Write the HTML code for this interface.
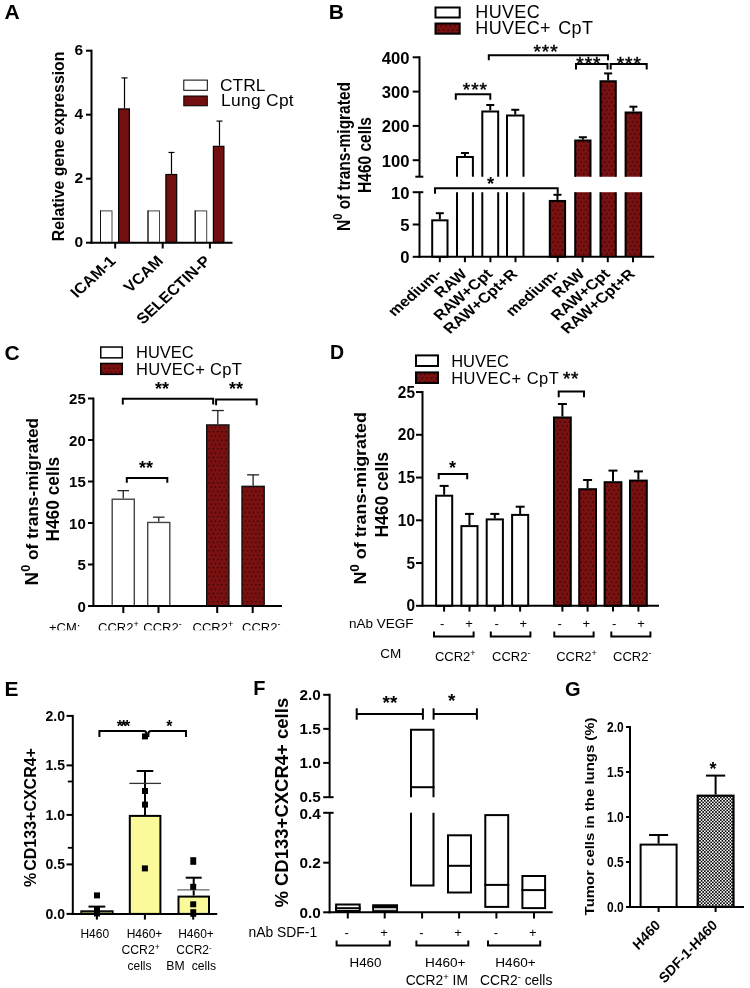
<!DOCTYPE html>
<html><head><meta charset="utf-8"><style>
html,body{margin:0;padding:0;background:#fff;}
svg{display:block;will-change:transform;}
text{font-family:"Liberation Sans", sans-serif;fill:#000;}
</style></head><body>
<svg width="750" height="988" viewBox="0 0 750 988">
<defs>
<pattern id="rd" patternUnits="userSpaceOnUse" width="4.67" height="8">
<rect width="4.67" height="8" fill="#7a1111"/>
<rect x="1.6" y="1.5" width="1.2" height="1.1" fill="#000"/>
<rect x="3.9" y="5.5" width="1.2" height="1.1" fill="#000"/>
<rect x="-0.77" y="5.5" width="1.2" height="1.1" fill="#000"/>
</pattern>
<pattern id="rd2" patternUnits="userSpaceOnUse" width="4.25" height="8.5" x="1" y="0.5">
<rect width="4.25" height="8.5" fill="#7a1111"/>
<rect x="1.5" y="1.5" width="1.1" height="1.1" fill="#000"/>
<rect x="3.6" y="5.75" width="1.1" height="1.1" fill="#000"/>
<rect x="-0.65" y="5.75" width="1.1" height="1.1" fill="#000"/>
</pattern>
<pattern id="ck" patternUnits="userSpaceOnUse" width="3.2" height="3.2">
<rect width="3.2" height="3.2" fill="#fff"/>
<rect width="1.6" height="1.6" fill="#000"/>
<rect x="1.6" y="1.6" width="1.6" height="1.6" fill="#000"/>
</pattern>
<clipPath id="clipC"><rect x="0" y="0" width="330" height="630.3"/></clipPath>
</defs>
<rect width="750" height="988" fill="#fff"/>
<text x="0" y="0" font-size="21" font-weight="bold" text-anchor="start" transform="translate(4.40 18.90)" >A</text>
<rect x="100.50" y="210.90" width="11.50" height="31.80" fill="#fff" stroke="#444" stroke-width="1"/>
<line x1="100.50" y1="210.40" x2="100.50" y2="242.70" stroke="#111" stroke-width="1"/>
<line x1="124.50" y1="108.30" x2="124.50" y2="77.90" stroke="#000" stroke-width="1.2"/>
<line x1="121.50" y1="77.90" x2="127.50" y2="77.90" stroke="#000" stroke-width="1.2"/>
<rect x="118.60" y="108.90" width="10.80" height="133.70" fill="#720f10" stroke="#000" stroke-width="1.2"/>
<rect x="148.00" y="210.90" width="11.50" height="31.80" fill="#fff" stroke="#444" stroke-width="1"/>
<line x1="148.00" y1="210.40" x2="148.00" y2="242.70" stroke="#111" stroke-width="1"/>
<line x1="171.50" y1="173.90" x2="171.50" y2="152.46" stroke="#000" stroke-width="1.2"/>
<line x1="168.50" y1="152.46" x2="174.50" y2="152.46" stroke="#000" stroke-width="1.2"/>
<rect x="165.90" y="174.50" width="10.80" height="68.10" fill="#720f10" stroke="#000" stroke-width="1.2"/>
<rect x="195.20" y="210.90" width="11.50" height="31.80" fill="#fff" stroke="#444" stroke-width="1"/>
<line x1="195.20" y1="210.40" x2="195.20" y2="242.70" stroke="#111" stroke-width="1"/>
<line x1="219.50" y1="145.74" x2="219.50" y2="121.10" stroke="#000" stroke-width="1.2"/>
<line x1="216.50" y1="121.10" x2="222.50" y2="121.10" stroke="#000" stroke-width="1.2"/>
<rect x="213.40" y="146.34" width="10.50" height="96.26" fill="#720f10" stroke="#000" stroke-width="1.2"/>
<line x1="91.50" y1="49.70" x2="91.50" y2="243.70" stroke="#000" stroke-width="2"/>
<line x1="90.50" y1="242.70" x2="232.50" y2="242.70" stroke="#000" stroke-width="2"/>
<line x1="86.00" y1="50.70" x2="91.50" y2="50.70" stroke="#000" stroke-width="2"/>
<text x="0" y="0" font-size="15.5" font-weight="bold" text-anchor="end" transform="translate(83.00 55.20)" >6</text>
<line x1="86.00" y1="114.70" x2="91.50" y2="114.70" stroke="#000" stroke-width="2"/>
<text x="0" y="0" font-size="15.5" font-weight="bold" text-anchor="end" transform="translate(83.00 119.20)" >4</text>
<line x1="86.00" y1="178.70" x2="91.50" y2="178.70" stroke="#000" stroke-width="2"/>
<text x="0" y="0" font-size="15.5" font-weight="bold" text-anchor="end" transform="translate(83.00 183.20)" >2</text>
<line x1="86.00" y1="242.70" x2="91.50" y2="242.70" stroke="#000" stroke-width="2"/>
<text x="0" y="0" font-size="15.5" font-weight="bold" text-anchor="end" transform="translate(83.00 247.20)" >0</text>
<line x1="115.20" y1="242.70" x2="115.20" y2="248.50" stroke="#000" stroke-width="2"/>
<line x1="162.70" y1="242.70" x2="162.70" y2="248.50" stroke="#000" stroke-width="2"/>
<line x1="209.90" y1="242.70" x2="209.90" y2="248.50" stroke="#000" stroke-width="2"/>
<text x="0" y="0" font-size="15.8" font-weight="bold" text-anchor="middle" transform="translate(64.00 146.40) rotate(-90) scale(1.0 1.1)" >Relative gene expression</text>
<text x="0" y="0" font-size="15" font-weight="bold" text-anchor="end" transform="translate(116.70 262.00) scale(1.085 1) rotate(-45)" >ICAM-1</text>
<text x="0" y="0" font-size="15" font-weight="bold" text-anchor="end" transform="translate(164.20 262.00) scale(1.085 1) rotate(-45)" >VCAM</text>
<text x="0" y="0" font-size="15" font-weight="bold" text-anchor="end" transform="translate(211.40 262.00) scale(1.085 1) rotate(-45)" >SELECTIN-P</text>
<rect x="183.80" y="80.10" width="23.50" height="10.20" fill="#fff" stroke="#000" stroke-width="1"/>
<rect x="183.80" y="96.00" width="23.50" height="9.80" fill="#720f10" stroke="#000" stroke-width="1"/>
<text x="0" y="0" font-size="17.4" font-weight="normal" text-anchor="start" transform="translate(220.00 90.60)" >CTRL</text>
<text x="0" y="0" font-size="17.4" font-weight="normal" text-anchor="start" transform="translate(221.00 106.20)" letter-spacing="0.3">Lung Cpt</text>
<text x="0" y="0" font-size="21" font-weight="bold" text-anchor="start" transform="translate(328.80 19.20)" >B</text>
<rect x="435.50" y="7.50" width="24.20" height="10.00" fill="#fff" stroke="#000" stroke-width="2"/>
<rect x="435.50" y="23.50" width="24.20" height="10.20" fill="url(#rd)" stroke="#000" stroke-width="2"/>
<text x="0" y="0" font-size="18" font-weight="normal" text-anchor="start" transform="translate(475.30 17.80)" letter-spacing="0.35">HUVEC</text>
<text x="0" y="0" font-size="18" font-weight="normal" text-anchor="start" transform="translate(475.30 33.60)" letter-spacing="0.35">HUVEC+<tspan dx="2"> CpT</tspan></text>
<line x1="439.85" y1="219.33" x2="439.85" y2="213.20" stroke="#000" stroke-width="2"/>
<line x1="435.85" y1="213.20" x2="443.85" y2="213.20" stroke="#000" stroke-width="2"/>
<rect x="432.20" y="220.33" width="15.30" height="36.47" fill="#fff" stroke="#000" stroke-width="2"/>
<line x1="464.95" y1="156.08" x2="464.95" y2="153.00" stroke="#000" stroke-width="2"/>
<line x1="460.95" y1="153.00" x2="468.95" y2="153.00" stroke="#000" stroke-width="2"/>
<path d="M457.00,176.70 L457.00,157.08 L472.90,157.08 L472.90,176.70" fill="#fff" stroke="#000" stroke-width="2"/>
<rect x="457.00" y="192.20" width="15.90" height="64.60" fill="#fff"/>
<path d="M457.00,192.20 L457.00,256.80 M472.90,256.80 L472.90,192.20" fill="none" stroke="#000" stroke-width="2"/>
<line x1="490.25" y1="110.46" x2="490.25" y2="104.98" stroke="#000" stroke-width="2"/>
<line x1="486.25" y1="104.98" x2="494.25" y2="104.98" stroke="#000" stroke-width="2"/>
<path d="M482.30,176.70 L482.30,111.46 L498.20,111.46 L498.20,176.70" fill="#fff" stroke="#000" stroke-width="2"/>
<rect x="482.30" y="192.20" width="15.90" height="64.60" fill="#fff"/>
<path d="M482.30,192.20 L482.30,256.80 M498.20,256.80 L498.20,192.20" fill="none" stroke="#000" stroke-width="2"/>
<line x1="515.25" y1="114.58" x2="515.25" y2="109.78" stroke="#000" stroke-width="2"/>
<line x1="511.25" y1="109.78" x2="519.25" y2="109.78" stroke="#000" stroke-width="2"/>
<path d="M507.00,176.70 L507.00,115.58 L523.50,115.58 L523.50,176.70" fill="#fff" stroke="#000" stroke-width="2"/>
<rect x="507.00" y="192.20" width="16.50" height="64.60" fill="#fff"/>
<path d="M507.00,192.20 L507.00,256.80 M523.50,256.80 L523.50,192.20" fill="none" stroke="#000" stroke-width="2"/>
<line x1="557.45" y1="199.95" x2="557.45" y2="194.78" stroke="#000" stroke-width="2"/>
<line x1="553.45" y1="194.78" x2="561.45" y2="194.78" stroke="#000" stroke-width="2"/>
<rect x="549.80" y="200.95" width="15.30" height="55.85" fill="url(#rd)" stroke="#000" stroke-width="2"/>
<line x1="582.85" y1="139.62" x2="582.85" y2="137.22" stroke="#000" stroke-width="2"/>
<line x1="578.85" y1="137.22" x2="586.85" y2="137.22" stroke="#000" stroke-width="2"/>
<path d="M575.20,176.70 L575.20,140.62 L590.50,140.62 L590.50,176.70" fill="url(#rd)" stroke="#000" stroke-width="2"/>
<rect x="575.20" y="192.20" width="15.30" height="64.60" fill="url(#rd)"/>
<path d="M575.20,192.20 L575.20,256.80 M590.50,256.80 L590.50,192.20" fill="none" stroke="#000" stroke-width="2"/>
<line x1="608.15" y1="80.28" x2="608.15" y2="73.42" stroke="#000" stroke-width="2"/>
<line x1="604.15" y1="73.42" x2="612.15" y2="73.42" stroke="#000" stroke-width="2"/>
<path d="M600.50,176.70 L600.50,81.28 L615.80,81.28 L615.80,176.70" fill="url(#rd)" stroke="#000" stroke-width="2"/>
<rect x="600.50" y="192.20" width="15.30" height="64.60" fill="url(#rd)"/>
<path d="M600.50,192.20 L600.50,256.80 M615.80,256.80 L615.80,192.20" fill="none" stroke="#000" stroke-width="2"/>
<line x1="633.40" y1="111.49" x2="633.40" y2="106.69" stroke="#000" stroke-width="2"/>
<line x1="629.40" y1="106.69" x2="637.40" y2="106.69" stroke="#000" stroke-width="2"/>
<path d="M625.60,176.70 L625.60,112.49 L641.20,112.49 L641.20,176.70" fill="url(#rd)" stroke="#000" stroke-width="2"/>
<rect x="625.60" y="192.20" width="15.60" height="64.60" fill="url(#rd)"/>
<path d="M625.60,192.20 L625.60,256.80 M641.20,256.80 L641.20,192.20" fill="none" stroke="#000" stroke-width="2"/>
<line x1="419.50" y1="56.30" x2="419.50" y2="176.70" stroke="#000" stroke-width="2"/>
<line x1="415.30" y1="176.70" x2="423.30" y2="176.70" stroke="#000" stroke-width="2"/>
<line x1="419.50" y1="192.20" x2="419.50" y2="257.80" stroke="#000" stroke-width="2"/>
<line x1="412.70" y1="192.20" x2="423.30" y2="192.20" stroke="#000" stroke-width="2"/>
<line x1="418.50" y1="256.80" x2="654.20" y2="256.80" stroke="#000" stroke-width="2"/>
<line x1="412.70" y1="57.30" x2="419.50" y2="57.30" stroke="#000" stroke-width="2"/>
<text x="0" y="0" font-size="16" font-weight="bold" text-anchor="end" transform="translate(409.40 63.60) scale(1.04 1.0)" >400</text>
<line x1="412.70" y1="91.60" x2="419.50" y2="91.60" stroke="#000" stroke-width="2"/>
<text x="0" y="0" font-size="16" font-weight="bold" text-anchor="end" transform="translate(409.40 97.90) scale(1.04 1.0)" >300</text>
<line x1="412.70" y1="125.90" x2="419.50" y2="125.90" stroke="#000" stroke-width="2"/>
<text x="0" y="0" font-size="16" font-weight="bold" text-anchor="end" transform="translate(409.40 132.20) scale(1.04 1.0)" >200</text>
<line x1="412.70" y1="160.20" x2="419.50" y2="160.20" stroke="#000" stroke-width="2"/>
<text x="0" y="0" font-size="16" font-weight="bold" text-anchor="end" transform="translate(409.40 166.50) scale(1.04 1.0)" >100</text>
<text x="0" y="0" font-size="16" font-weight="bold" text-anchor="end" transform="translate(409.40 198.50) scale(1.04 1.0)" >10</text>
<line x1="412.70" y1="224.50" x2="419.50" y2="224.50" stroke="#000" stroke-width="2"/>
<text x="0" y="0" font-size="16" font-weight="bold" text-anchor="end" transform="translate(409.40 230.80) scale(1.04 1.0)" >5</text>
<line x1="412.70" y1="256.80" x2="419.50" y2="256.80" stroke="#000" stroke-width="2"/>
<text x="0" y="0" font-size="16" font-weight="bold" text-anchor="end" transform="translate(409.40 263.10) scale(1.04 1.0)" >0</text>
<line x1="439.80" y1="256.80" x2="439.80" y2="262.20" stroke="#000" stroke-width="2"/>
<line x1="464.90" y1="256.80" x2="464.90" y2="262.20" stroke="#000" stroke-width="2"/>
<line x1="490.40" y1="256.80" x2="490.40" y2="262.20" stroke="#000" stroke-width="2"/>
<line x1="515.50" y1="256.80" x2="515.50" y2="262.20" stroke="#000" stroke-width="2"/>
<line x1="557.70" y1="256.80" x2="557.70" y2="262.20" stroke="#000" stroke-width="2"/>
<line x1="582.60" y1="256.80" x2="582.60" y2="262.20" stroke="#000" stroke-width="2"/>
<line x1="607.80" y1="256.80" x2="607.80" y2="262.20" stroke="#000" stroke-width="2"/>
<line x1="633.00" y1="256.80" x2="633.00" y2="262.20" stroke="#000" stroke-width="2"/>
<text x="0" y="0" font-size="14.3" font-weight="bold" text-anchor="end" transform="translate(442.80 275.00) scale(1.15 1) rotate(-45)" >medium-</text>
<text x="0" y="0" font-size="14.3" font-weight="bold" text-anchor="end" transform="translate(467.90 275.00) scale(1.15 1) rotate(-45)" >RAW</text>
<text x="0" y="0" font-size="14.3" font-weight="bold" text-anchor="end" transform="translate(493.40 275.00) scale(1.15 1) rotate(-45)" >RAW+Cpt</text>
<text x="0" y="0" font-size="14.3" font-weight="bold" text-anchor="end" transform="translate(518.50 275.00) scale(1.15 1) rotate(-45)" >RAW+Cpt+R</text>
<text x="0" y="0" font-size="14.3" font-weight="bold" text-anchor="end" transform="translate(560.70 275.00) scale(1.15 1) rotate(-45)" >medium-</text>
<text x="0" y="0" font-size="14.3" font-weight="bold" text-anchor="end" transform="translate(585.60 275.00) scale(1.15 1) rotate(-45)" >RAW</text>
<text x="0" y="0" font-size="14.3" font-weight="bold" text-anchor="end" transform="translate(610.80 275.00) scale(1.15 1) rotate(-45)" >RAW+Cpt</text>
<text x="0" y="0" font-size="14.3" font-weight="bold" text-anchor="end" transform="translate(636.00 275.00) scale(1.15 1) rotate(-45)" >RAW+Cpt+R</text>
<path d="M455.80,99.80 L455.80,94.30 L490.30,94.30 L490.30,99.80" stroke="#000" stroke-width="2" fill="none" />
<text x="0" y="0" font-size="19" font-weight="normal" text-anchor="middle" transform="translate(475.40 95.80)" letter-spacing="1.0" stroke="#000" stroke-width="0.5">***</text>
<text x="0" y="0" font-size="19" font-weight="normal" text-anchor="middle" transform="translate(546.00 57.70)" letter-spacing="1.0" stroke="#000" stroke-width="0.5">***</text>
<text x="0" y="0" font-size="19" font-weight="normal" text-anchor="middle" transform="translate(588.90 70.30)" letter-spacing="1.0" stroke="#000" stroke-width="0.5">***</text>
<text x="0" y="0" font-size="19" font-weight="normal" text-anchor="middle" transform="translate(629.30 70.30)" letter-spacing="1.0" stroke="#000" stroke-width="0.5">***</text>
<text x="0" y="0" font-size="18.5" font-weight="bold" text-anchor="middle" transform="translate(490.70 189.50)" >*</text>
<path d="M488.80,60.20 L488.80,55.20 L608.00,55.20 L608.00,60.20" stroke="#000" stroke-width="2" fill="none" />
<path d="M576.00,69.50 L576.00,64.00 L607.50,64.00 L607.50,69.50" stroke="#000" stroke-width="2" fill="none" />
<path d="M610.70,69.50 L610.70,64.00 L646.70,64.00 L646.70,69.50" stroke="#000" stroke-width="2" fill="none" />
<path d="M435.00,193.80 L435.00,188.30 L557.70,188.30 L557.70,193.80" stroke="#000" stroke-width="2" fill="none" />
<text x="0" y="0" font-size="15.5" font-weight="bold" text-anchor="middle" transform="translate(350.00 156.50) rotate(-90) scale(1.0 1.22)" >N<tspan font-size="11" dy="-6.6">0</tspan><tspan dy="6.6"> of trans-migrated</tspan></text>
<text x="0" y="0" font-size="15.5" font-weight="bold" text-anchor="middle" transform="translate(370.80 155.00) rotate(-90) scale(1.0 1.18)" >H460 cells</text>
<text x="0" y="0" font-size="21" font-weight="bold" text-anchor="start" transform="translate(4.40 359.60)" >C</text>
<rect x="100.75" y="347.05" width="21.50" height="10.80" fill="#fff" stroke="#000" stroke-width="1.5"/>
<rect x="100.75" y="363.45" width="21.50" height="10.90" fill="url(#rd2)" stroke="#000" stroke-width="1.5"/>
<text x="0" y="0" font-size="16.5" font-weight="normal" text-anchor="start" transform="translate(136.00 358.20)" >HUVEC</text>
<text x="0" y="0" font-size="16.5" font-weight="normal" text-anchor="start" transform="translate(136.00 375.00)" letter-spacing="0.3">HUVEC+ CpT</text>
<line x1="123.25" y1="498.51" x2="123.25" y2="490.63" stroke="#222" stroke-width="1.3"/>
<line x1="117.50" y1="490.63" x2="129.00" y2="490.63" stroke="#222" stroke-width="1.3"/>
<rect x="112.20" y="499.21" width="22.10" height="107.09" fill="#fff" stroke="#444" stroke-width="1.4"/>
<line x1="158.75" y1="521.75" x2="158.75" y2="517.19" stroke="#222" stroke-width="1.3"/>
<line x1="153.00" y1="517.19" x2="164.50" y2="517.19" stroke="#222" stroke-width="1.3"/>
<rect x="147.70" y="522.46" width="22.10" height="83.84" fill="#fff" stroke="#444" stroke-width="1.4"/>
<line x1="217.80" y1="424.23" x2="217.80" y2="410.53" stroke="#222" stroke-width="1.3"/>
<line x1="211.80" y1="410.53" x2="223.80" y2="410.53" stroke="#222" stroke-width="1.3"/>
<rect x="206.70" y="424.93" width="22.20" height="181.37" fill="url(#rd2)" stroke="#111" stroke-width="1.4"/>
<line x1="253.10" y1="485.65" x2="253.10" y2="474.86" stroke="#222" stroke-width="1.3"/>
<line x1="247.10" y1="474.86" x2="259.10" y2="474.86" stroke="#222" stroke-width="1.3"/>
<rect x="242.00" y="486.35" width="22.20" height="119.95" fill="url(#rd2)" stroke="#111" stroke-width="1.4"/>
<line x1="93.40" y1="397.60" x2="93.40" y2="607.00" stroke="#000" stroke-width="2"/>
<line x1="92.40" y1="606.00" x2="282.00" y2="606.00" stroke="#000" stroke-width="2"/>
<line x1="88.00" y1="398.50" x2="93.40" y2="398.50" stroke="#000" stroke-width="2"/>
<text x="0" y="0" font-size="15.5" font-weight="bold" text-anchor="end" transform="translate(85.80 404.00) scale(0.97 1.0)" >25</text>
<line x1="88.00" y1="440.00" x2="93.40" y2="440.00" stroke="#000" stroke-width="2"/>
<text x="0" y="0" font-size="15.5" font-weight="bold" text-anchor="end" transform="translate(85.80 445.50) scale(0.97 1.0)" >20</text>
<line x1="88.00" y1="481.50" x2="93.40" y2="481.50" stroke="#000" stroke-width="2"/>
<text x="0" y="0" font-size="15.5" font-weight="bold" text-anchor="end" transform="translate(85.80 487.00) scale(0.97 1.0)" >15</text>
<line x1="88.00" y1="523.00" x2="93.40" y2="523.00" stroke="#000" stroke-width="2"/>
<text x="0" y="0" font-size="15.5" font-weight="bold" text-anchor="end" transform="translate(85.80 528.50) scale(0.97 1.0)" >10</text>
<line x1="88.00" y1="564.50" x2="93.40" y2="564.50" stroke="#000" stroke-width="2"/>
<text x="0" y="0" font-size="15.5" font-weight="bold" text-anchor="end" transform="translate(85.80 570.00) scale(0.97 1.0)" >5</text>
<line x1="88.00" y1="606.00" x2="93.40" y2="606.00" stroke="#000" stroke-width="2"/>
<text x="0" y="0" font-size="15.5" font-weight="bold" text-anchor="end" transform="translate(85.80 611.50) scale(0.97 1.0)" >0</text>
<line x1="123.30" y1="606.00" x2="123.30" y2="613.00" stroke="#000" stroke-width="2"/>
<line x1="158.50" y1="606.00" x2="158.50" y2="613.00" stroke="#000" stroke-width="2"/>
<line x1="217.20" y1="606.00" x2="217.20" y2="613.00" stroke="#000" stroke-width="2"/>
<line x1="252.70" y1="606.00" x2="252.70" y2="613.00" stroke="#000" stroke-width="2"/>
<path d="M122.80,404.50 L122.80,398.70 L213.20,398.70 L213.20,404.50" stroke="#000" stroke-width="2" fill="none" />
<path d="M216.10,405.30 L216.10,399.50 L256.70,399.50 L256.70,405.30" stroke="#000" stroke-width="2" fill="none" />
<path d="M126.80,482.80 L126.80,478.00 L167.30,478.00 L167.30,482.80" stroke="#000" stroke-width="2" fill="none" />
<text x="0" y="0" font-size="18" font-weight="bold" text-anchor="middle" transform="translate(162.00 394.60)" >**</text>
<text x="0" y="0" font-size="18" font-weight="bold" text-anchor="middle" transform="translate(235.90 394.60)" >**</text>
<text x="0" y="0" font-size="18" font-weight="bold" text-anchor="middle" transform="translate(146.00 474.00)" >**</text>
<text x="0" y="0" font-size="17.3" font-weight="bold" text-anchor="middle" transform="translate(37.90 501.60) rotate(-90)" ><tspan font-size="18.8">N</tspan><tspan font-size="12.7" dy="-7.6">0</tspan><tspan dy="7.6"> of trans-migrated</tspan></text>
<text x="0" y="0" font-size="17.3" font-weight="bold" text-anchor="middle" transform="translate(58.50 499.20) rotate(-90) scale(1.0 1.08)" >H460 cells</text>
<g clip-path="url(#clipC)">
<text x="0" y="0" font-size="13" font-weight="normal" text-anchor="start" transform="translate(49.00 631.80)" >+CM:</text>
<text x="0" y="0" font-size="13" font-weight="normal" text-anchor="start" transform="translate(98.00 631.80)" >CCR2<tspan font-size="9" dy="-5">+</tspan></text>
<text x="0" y="0" font-size="13" font-weight="normal" text-anchor="start" transform="translate(143.30 631.80)" >CCR2<tspan font-size="9" dy="-5">-</tspan></text>
<text x="0" y="0" font-size="13" font-weight="normal" text-anchor="start" transform="translate(192.50 631.80)" >CCR2<tspan font-size="9" dy="-5">+</tspan></text>
<text x="0" y="0" font-size="13" font-weight="normal" text-anchor="start" transform="translate(242.00 631.80)" >CCR2<tspan font-size="9" dy="-5">-</tspan></text>
</g>
<text x="0" y="0" font-size="19.5" font-weight="bold" text-anchor="start" transform="translate(330.00 359.40)" >D</text>
<rect x="416.00" y="355.40" width="22.00" height="10.60" fill="#fff" stroke="#000" stroke-width="2"/>
<rect x="416.00" y="372.40" width="22.00" height="10.60" fill="url(#rd)" stroke="#000" stroke-width="2"/>
<text x="0" y="0" font-size="16.5" font-weight="normal" text-anchor="start" transform="translate(451.20 366.70)" >HUVEC</text>
<text x="0" y="0" font-size="16.5" font-weight="normal" text-anchor="start" transform="translate(451.20 383.50)" letter-spacing="0.5">HUVEC+ CpT</text>
<text x="0" y="0" font-size="19" font-weight="normal" text-anchor="middle" transform="translate(571.00 385.00)" stroke="#000" stroke-width="0.5" letter-spacing="0.5">**</text>
<line x1="444.15" y1="494.70" x2="444.15" y2="485.90" stroke="#000" stroke-width="2"/>
<line x1="439.65" y1="485.90" x2="448.65" y2="485.90" stroke="#000" stroke-width="2"/>
<rect x="436.10" y="495.70" width="16.10" height="110.10" fill="#fff" stroke="#000" stroke-width="2"/>
<line x1="469.45" y1="525.10" x2="469.45" y2="513.90" stroke="#000" stroke-width="2"/>
<line x1="464.95" y1="513.90" x2="473.95" y2="513.90" stroke="#000" stroke-width="2"/>
<rect x="461.40" y="526.10" width="16.10" height="79.70" fill="#fff" stroke="#000" stroke-width="2"/>
<line x1="494.80" y1="518.40" x2="494.80" y2="513.90" stroke="#000" stroke-width="2"/>
<line x1="490.30" y1="513.90" x2="499.30" y2="513.90" stroke="#000" stroke-width="2"/>
<rect x="486.70" y="519.40" width="16.20" height="86.40" fill="#fff" stroke="#000" stroke-width="2"/>
<line x1="520.15" y1="513.90" x2="520.15" y2="506.70" stroke="#000" stroke-width="2"/>
<line x1="515.65" y1="506.70" x2="524.65" y2="506.70" stroke="#000" stroke-width="2"/>
<rect x="512.10" y="514.90" width="16.10" height="90.90" fill="#fff" stroke="#000" stroke-width="2"/>
<line x1="562.40" y1="416.50" x2="562.40" y2="404.00" stroke="#000" stroke-width="2"/>
<line x1="557.90" y1="404.00" x2="566.90" y2="404.00" stroke="#000" stroke-width="2"/>
<rect x="554.00" y="417.50" width="16.80" height="188.30" fill="url(#rd)" stroke="#000" stroke-width="2"/>
<line x1="587.60" y1="488.20" x2="587.60" y2="480.00" stroke="#000" stroke-width="2"/>
<line x1="583.10" y1="480.00" x2="592.10" y2="480.00" stroke="#000" stroke-width="2"/>
<rect x="579.20" y="489.20" width="16.80" height="116.60" fill="url(#rd)" stroke="#000" stroke-width="2"/>
<line x1="613.00" y1="481.20" x2="613.00" y2="470.60" stroke="#000" stroke-width="2"/>
<line x1="608.50" y1="470.60" x2="617.50" y2="470.60" stroke="#000" stroke-width="2"/>
<rect x="604.60" y="482.20" width="16.80" height="123.60" fill="url(#rd)" stroke="#000" stroke-width="2"/>
<line x1="638.40" y1="479.60" x2="638.40" y2="471.40" stroke="#000" stroke-width="2"/>
<line x1="633.90" y1="471.40" x2="642.90" y2="471.40" stroke="#000" stroke-width="2"/>
<rect x="630.00" y="480.60" width="16.80" height="125.20" fill="url(#rd)" stroke="#000" stroke-width="2"/>
<line x1="422.50" y1="391.00" x2="422.50" y2="606.80" stroke="#000" stroke-width="2"/>
<line x1="421.50" y1="605.80" x2="659.00" y2="605.80" stroke="#000" stroke-width="2"/>
<line x1="416.00" y1="392.05" x2="422.50" y2="392.05" stroke="#000" stroke-width="2"/>
<text x="0" y="0" font-size="16.4" font-weight="bold" text-anchor="end" transform="translate(415.00 397.65) scale(0.94 1.0)" >25</text>
<line x1="416.00" y1="434.80" x2="422.50" y2="434.80" stroke="#000" stroke-width="2"/>
<text x="0" y="0" font-size="16.4" font-weight="bold" text-anchor="end" transform="translate(415.00 440.40) scale(0.94 1.0)" >20</text>
<line x1="416.00" y1="477.55" x2="422.50" y2="477.55" stroke="#000" stroke-width="2"/>
<text x="0" y="0" font-size="16.4" font-weight="bold" text-anchor="end" transform="translate(415.00 483.15) scale(0.94 1.0)" >15</text>
<line x1="416.00" y1="520.30" x2="422.50" y2="520.30" stroke="#000" stroke-width="2"/>
<text x="0" y="0" font-size="16.4" font-weight="bold" text-anchor="end" transform="translate(415.00 525.90) scale(0.94 1.0)" >10</text>
<line x1="416.00" y1="563.05" x2="422.50" y2="563.05" stroke="#000" stroke-width="2"/>
<text x="0" y="0" font-size="16.4" font-weight="bold" text-anchor="end" transform="translate(415.00 568.65) scale(0.94 1.0)" >5</text>
<line x1="416.00" y1="605.80" x2="422.50" y2="605.80" stroke="#000" stroke-width="2"/>
<text x="0" y="0" font-size="16.4" font-weight="bold" text-anchor="end" transform="translate(415.00 611.40) scale(0.94 1.0)" >0</text>
<line x1="444.10" y1="605.80" x2="444.10" y2="611.60" stroke="#000" stroke-width="2"/>
<line x1="469.50" y1="605.80" x2="469.50" y2="611.60" stroke="#000" stroke-width="2"/>
<line x1="494.80" y1="605.80" x2="494.80" y2="611.60" stroke="#000" stroke-width="2"/>
<line x1="520.10" y1="605.80" x2="520.10" y2="611.60" stroke="#000" stroke-width="2"/>
<line x1="562.40" y1="605.80" x2="562.40" y2="611.60" stroke="#000" stroke-width="2"/>
<line x1="587.60" y1="605.80" x2="587.60" y2="611.60" stroke="#000" stroke-width="2"/>
<line x1="613.00" y1="605.80" x2="613.00" y2="611.60" stroke="#000" stroke-width="2"/>
<line x1="638.40" y1="605.80" x2="638.40" y2="611.60" stroke="#000" stroke-width="2"/>
<text x="0" y="0" font-size="13" font-weight="normal" text-anchor="middle" transform="translate(442.10 627.50)" >-</text>
<text x="0" y="0" font-size="13" font-weight="normal" text-anchor="middle" transform="translate(469.00 627.50)" >+</text>
<text x="0" y="0" font-size="13" font-weight="normal" text-anchor="middle" transform="translate(496.70 627.50)" >-</text>
<text x="0" y="0" font-size="13" font-weight="normal" text-anchor="middle" transform="translate(523.40 627.50)" >+</text>
<text x="0" y="0" font-size="13" font-weight="normal" text-anchor="middle" transform="translate(559.70 627.50)" >-</text>
<text x="0" y="0" font-size="13" font-weight="normal" text-anchor="middle" transform="translate(586.30 627.50)" >+</text>
<text x="0" y="0" font-size="13" font-weight="normal" text-anchor="middle" transform="translate(614.10 627.50)" >-</text>
<text x="0" y="0" font-size="13" font-weight="normal" text-anchor="middle" transform="translate(641.00 627.50)" >+</text>
<path d="M438.70,479.20 L438.70,473.90 L467.20,473.90 L467.20,479.20" stroke="#000" stroke-width="2" fill="none" />
<text x="0" y="0" font-size="18" font-weight="bold" text-anchor="middle" transform="translate(452.50 474.00)" >*</text>
<path d="M558.70,397.30 L558.70,391.50 L584.00,391.50 L584.00,397.30" stroke="#000" stroke-width="2" fill="none" />
<text x="0" y="0" font-size="13.5" font-weight="normal" text-anchor="start" transform="translate(348.90 627.90)" >nAb VEGF</text>
<path d="M434.00,631.50 L434.00,636.50 L473.60,636.50 L473.60,631.50" stroke="#000" stroke-width="2" fill="none" />
<path d="M490.80,631.50 L490.80,636.50 L530.40,636.50 L530.40,631.50" stroke="#000" stroke-width="2" fill="none" />
<path d="M554.30,631.50 L554.30,636.50 L593.60,636.50 L593.60,631.50" stroke="#000" stroke-width="2" fill="none" />
<path d="M611.30,631.50 L611.30,636.50 L650.40,636.50 L650.40,631.50" stroke="#000" stroke-width="2" fill="none" />
<text x="0" y="0" font-size="13.5" font-weight="normal" text-anchor="start" transform="translate(380.30 658.40)" >CM</text>
<text x="0" y="0" font-size="13" font-weight="normal" text-anchor="start" transform="translate(434.90 660.60)" >CCR2<tspan font-size="9" dy="-5">+</tspan></text>
<text x="0" y="0" font-size="13" font-weight="normal" text-anchor="start" transform="translate(492.00 660.60)" >CCR2<tspan font-size="9" dy="-5">-</tspan></text>
<text x="0" y="0" font-size="13" font-weight="normal" text-anchor="start" transform="translate(556.20 660.60)" >CCR2<tspan font-size="9" dy="-5">+</tspan></text>
<text x="0" y="0" font-size="13" font-weight="normal" text-anchor="start" transform="translate(613.00 660.60)" >CCR2<tspan font-size="9" dy="-5">-</tspan></text>
<text x="0" y="0" font-size="17.9" font-weight="bold" text-anchor="middle" transform="translate(366.20 498.40) rotate(-90) scale(1.0 0.95)" >N<tspan font-size="13.5" dy="-7.3">0</tspan><tspan dy="7.3"> of trans-migrated</tspan></text>
<text x="0" y="0" font-size="17.5" font-weight="bold" text-anchor="middle" transform="translate(388.40 494.80) rotate(-90)" >H460 cells</text>
<text x="0" y="0" font-size="21" font-weight="bold" text-anchor="start" transform="translate(4.50 695.50)" >E</text>
<rect x="81.10" y="911.10" width="31.70" height="3.00" fill="#7d7d4a" stroke="#000" stroke-width="1.6"/>
<rect x="129.80" y="815.90" width="30.60" height="98.00" fill="#fafa9a" stroke="#000" stroke-width="2"/>
<rect x="178.50" y="896.60" width="30.50" height="17.30" fill="#fafa9a" stroke="#000" stroke-width="2"/>
<line x1="96.90" y1="910.93" x2="96.90" y2="906.60" stroke="#000" stroke-width="2"/>
<line x1="88.55" y1="906.60" x2="105.25" y2="906.60" stroke="#000" stroke-width="2"/>
<line x1="145.00" y1="816.00" x2="145.00" y2="771.00" stroke="#000" stroke-width="2"/>
<line x1="136.70" y1="771.00" x2="153.30" y2="771.00" stroke="#000" stroke-width="2"/>
<line x1="129.40" y1="783.40" x2="161.00" y2="783.40" stroke="#333" stroke-width="1.3"/>
<line x1="193.70" y1="895.60" x2="193.70" y2="877.70" stroke="#000" stroke-width="2"/>
<line x1="185.70" y1="877.70" x2="201.70" y2="877.70" stroke="#000" stroke-width="2"/>
<line x1="177.20" y1="889.80" x2="209.50" y2="889.80" stroke="#666" stroke-width="1.3"/>
<rect x="94.00" y="892.40" width="6" height="6" fill="#000"/>
<rect x="94.00" y="906.50" width="6" height="6" fill="#000"/>
<rect x="94.00" y="910.50" width="6" height="6" fill="#000"/>
<rect x="142.00" y="733.40" width="6" height="6" fill="#000"/>
<rect x="142.00" y="788.00" width="6" height="6" fill="#000"/>
<rect x="142.00" y="801.60" width="6" height="6" fill="#000"/>
<rect x="141.90" y="865.40" width="6" height="6" fill="#000"/>
<rect x="190.3" y="857.2" width="5.9" height="7.6" fill="#000"/>
<rect x="190.20" y="883.80" width="6" height="6" fill="#000"/>
<rect x="190.20" y="901.30" width="6" height="6" fill="#000"/>
<rect x="190.3" y="909.2" width="5.9" height="7.6" fill="#000"/>
<line x1="72.80" y1="714.90" x2="72.80" y2="914.90" stroke="#000" stroke-width="2"/>
<line x1="71.80" y1="913.90" x2="217.20" y2="913.90" stroke="#000" stroke-width="2"/>
<line x1="66.50" y1="715.90" x2="72.80" y2="715.90" stroke="#000" stroke-width="2"/>
<text x="0" y="0" font-size="14" font-weight="bold" text-anchor="end" transform="translate(65.00 720.90)" >2.0</text>
<line x1="66.50" y1="765.40" x2="72.80" y2="765.40" stroke="#000" stroke-width="2"/>
<text x="0" y="0" font-size="14" font-weight="bold" text-anchor="end" transform="translate(65.00 770.40)" >1.5</text>
<line x1="66.50" y1="814.90" x2="72.80" y2="814.90" stroke="#000" stroke-width="2"/>
<text x="0" y="0" font-size="14" font-weight="bold" text-anchor="end" transform="translate(65.00 819.90)" >1.0</text>
<line x1="66.50" y1="864.40" x2="72.80" y2="864.40" stroke="#000" stroke-width="2"/>
<text x="0" y="0" font-size="14" font-weight="bold" text-anchor="end" transform="translate(65.00 869.40)" >0.5</text>
<line x1="66.50" y1="913.90" x2="72.80" y2="913.90" stroke="#000" stroke-width="2"/>
<text x="0" y="0" font-size="14" font-weight="bold" text-anchor="end" transform="translate(65.00 918.90)" >0.0</text>
<line x1="67.80" y1="781.50" x2="72.80" y2="781.50" stroke="#000" stroke-width="1.8"/>
<line x1="67.80" y1="847.80" x2="72.80" y2="847.80" stroke="#000" stroke-width="1.8"/>
<line x1="96.90" y1="913.90" x2="96.90" y2="919.60" stroke="#000" stroke-width="2"/>
<line x1="144.90" y1="913.90" x2="144.90" y2="919.60" stroke="#000" stroke-width="2"/>
<line x1="193.20" y1="913.90" x2="193.20" y2="919.60" stroke="#000" stroke-width="2"/>
<path d="M99.4,737 L99.4,731 L144,731 Q146.4,731 146.4,733.5 L146.4,737" stroke="#000" stroke-width="2" fill="none" />
<path d="M148.4,737 L148.4,733.5 Q148.4,731 151,731 L186,731 L186,737" stroke="#000" stroke-width="2" fill="none" />
<text x="0" y="0" font-size="16" font-weight="bold" text-anchor="middle" transform="translate(122.30 731.80)" letter-spacing="-2.6">***</text>
<text x="0" y="0" font-size="16" font-weight="bold" text-anchor="middle" transform="translate(169.30 732.20)" >*</text>
<text x="0" y="0" font-size="16" font-weight="bold" text-anchor="middle" transform="translate(35.50 817.60) rotate(-90) scale(1.0 1.05)" >%<tspan dx="-2.3"> CD133+CXCR4+</tspan></text>
<text x="0" y="0" font-size="12" font-weight="normal" text-anchor="middle" transform="translate(94.80 938.40)" >H460</text>
<text x="0" y="0" font-size="12" font-weight="normal" text-anchor="middle" transform="translate(144.50 938.40)" >H460+</text>
<text x="0" y="0" font-size="12.2" font-weight="normal" text-anchor="middle" transform="translate(140.60 954.00)" >CCR2<tspan font-size="8.5" dy="-4.5">+</tspan></text>
<text x="0" y="0" font-size="12" font-weight="normal" text-anchor="middle" transform="translate(139.50 969.60)" >cells</text>
<text x="0" y="0" font-size="12" font-weight="normal" text-anchor="middle" transform="translate(196.00 938.40)" >H460+</text>
<text x="0" y="0" font-size="12" font-weight="normal" text-anchor="middle" transform="translate(194.00 954.00)" >CCR2<tspan font-size="8" dy="-4.5">-</tspan></text>
<text x="0" y="0" font-size="12.2" font-weight="normal" text-anchor="middle" transform="translate(191.20 969.60)" xml:space="preserve">BM<tspan dx="7">cells</tspan></text>
<text x="0" y="0" font-size="20" font-weight="bold" text-anchor="start" transform="translate(253.20 695.30)" >F</text>
<rect x="336.10" y="904.50" width="23.60" height="6.50" fill="#fff" stroke="#000" stroke-width="2"/>
<line x1="335.10" y1="908.20" x2="360.70" y2="908.20" stroke="#000" stroke-width="2"/>
<rect x="373.10" y="905.40" width="24.00" height="5.70" fill="#d0d0d0" stroke="#000" stroke-width="1.8"/>
<rect x="372.2" y="904.5" width="25.8" height="3.6" fill="#000"/>
<path d="M411,797.2 L411,729.7 L433.5,729.7 L433.5,797.2" fill="none" stroke="#000" stroke-width="2"/>
<line x1="410.00" y1="787.20" x2="434.50" y2="787.20" stroke="#000" stroke-width="2"/>
<path d="M411,812.8 L411,885.5 L433.5,885.5 L433.5,812.8" fill="none" stroke="#000" stroke-width="2"/>
<rect x="448.00" y="835.30" width="23.00" height="57.20" fill="#fff" stroke="#000" stroke-width="2"/>
<line x1="447.00" y1="865.80" x2="472.00" y2="865.80" stroke="#000" stroke-width="2"/>
<rect x="485.30" y="815.10" width="22.90" height="91.80" fill="#fff" stroke="#000" stroke-width="2"/>
<line x1="484.30" y1="884.90" x2="509.20" y2="884.90" stroke="#000" stroke-width="2"/>
<rect x="522.40" y="876.00" width="22.70" height="32.10" fill="#fff" stroke="#000" stroke-width="2"/>
<line x1="521.40" y1="890.10" x2="546.10" y2="890.10" stroke="#000" stroke-width="2"/>
<line x1="329.60" y1="693.80" x2="329.60" y2="797.20" stroke="#000" stroke-width="2"/>
<line x1="323.20" y1="797.20" x2="333.60" y2="797.20" stroke="#000" stroke-width="2"/>
<line x1="329.60" y1="812.80" x2="329.60" y2="913.30" stroke="#000" stroke-width="2"/>
<line x1="323.20" y1="812.80" x2="333.60" y2="812.80" stroke="#000" stroke-width="2"/>
<line x1="328.60" y1="912.30" x2="552.70" y2="912.30" stroke="#000" stroke-width="2"/>
<line x1="323.20" y1="694.80" x2="329.60" y2="694.80" stroke="#000" stroke-width="2"/>
<text x="0" y="0" font-size="15.3" font-weight="bold" text-anchor="end" transform="translate(320.80 700.20)" >2.0</text>
<line x1="323.20" y1="728.85" x2="329.60" y2="728.85" stroke="#000" stroke-width="2"/>
<text x="0" y="0" font-size="15.3" font-weight="bold" text-anchor="end" transform="translate(320.80 734.25)" >1.5</text>
<line x1="323.20" y1="762.90" x2="329.60" y2="762.90" stroke="#000" stroke-width="2"/>
<text x="0" y="0" font-size="15.3" font-weight="bold" text-anchor="end" transform="translate(320.80 768.30)" >1.0</text>
<text x="0" y="0" font-size="15.3" font-weight="bold" text-anchor="end" transform="translate(320.80 802.35)" >0.5</text>
<text x="0" y="0" font-size="15.3" font-weight="bold" text-anchor="end" transform="translate(320.80 818.50)" >0.4</text>
<line x1="323.20" y1="862.70" x2="329.60" y2="862.70" stroke="#000" stroke-width="2"/>
<text x="0" y="0" font-size="15.3" font-weight="bold" text-anchor="end" transform="translate(320.80 868.10)" >0.2</text>
<line x1="323.20" y1="912.30" x2="329.60" y2="912.30" stroke="#000" stroke-width="2"/>
<text x="0" y="0" font-size="15.3" font-weight="bold" text-anchor="end" transform="translate(320.80 917.70)" >0.0</text>
<line x1="347.80" y1="912.30" x2="347.80" y2="918.50" stroke="#000" stroke-width="2"/>
<line x1="384.70" y1="912.30" x2="384.70" y2="918.50" stroke="#000" stroke-width="2"/>
<line x1="422.10" y1="912.30" x2="422.10" y2="918.50" stroke="#000" stroke-width="2"/>
<line x1="459.10" y1="912.30" x2="459.10" y2="918.50" stroke="#000" stroke-width="2"/>
<line x1="496.40" y1="912.30" x2="496.40" y2="918.50" stroke="#000" stroke-width="2"/>
<line x1="534.00" y1="912.30" x2="534.00" y2="918.50" stroke="#000" stroke-width="2"/>
<text x="0" y="0" font-size="13.9" font-weight="normal" text-anchor="start" transform="translate(248.50 937.30)" >nAb SDF-1</text>
<text x="0" y="0" font-size="13" font-weight="normal" text-anchor="middle" transform="translate(346.70 936.50)" >-</text>
<text x="0" y="0" font-size="13" font-weight="normal" text-anchor="middle" transform="translate(384.00 936.50)" >+</text>
<text x="0" y="0" font-size="13" font-weight="normal" text-anchor="middle" transform="translate(421.30 936.50)" >-</text>
<text x="0" y="0" font-size="13" font-weight="normal" text-anchor="middle" transform="translate(458.00 936.50)" >+</text>
<text x="0" y="0" font-size="13" font-weight="normal" text-anchor="middle" transform="translate(496.00 936.50)" >-</text>
<text x="0" y="0" font-size="13" font-weight="normal" text-anchor="middle" transform="translate(532.70 936.50)" >+</text>
<path d="M336.60,940.50 L336.60,945.50 L389.80,945.50 L389.80,940.50" stroke="#000" stroke-width="2" fill="none" />
<path d="M416.40,940.50 L416.40,945.50 L468.30,945.50 L468.30,940.50" stroke="#000" stroke-width="2" fill="none" />
<path d="M488.00,940.50 L488.00,945.50 L540.20,945.50 L540.20,940.50" stroke="#000" stroke-width="2" fill="none" />
<line x1="356.70" y1="714.00" x2="422.90" y2="714.00" stroke="#000" stroke-width="2"/>
<line x1="356.70" y1="708.30" x2="356.70" y2="719.70" stroke="#000" stroke-width="2"/>
<line x1="422.90" y1="708.30" x2="422.90" y2="719.70" stroke="#000" stroke-width="2"/>
<line x1="433.60" y1="714.00" x2="476.90" y2="714.00" stroke="#000" stroke-width="2"/>
<line x1="433.60" y1="708.30" x2="433.60" y2="719.70" stroke="#000" stroke-width="2"/>
<line x1="476.90" y1="708.30" x2="476.90" y2="719.70" stroke="#000" stroke-width="2"/>
<text x="0" y="0" font-size="19" font-weight="bold" text-anchor="middle" transform="translate(390.00 708.60)" >**</text>
<text x="0" y="0" font-size="19" font-weight="bold" text-anchor="middle" transform="translate(451.70 706.60)" >*</text>
<text x="0" y="0" font-size="13.4" font-weight="normal" text-anchor="middle" transform="translate(365.50 967.00)" >H460</text>
<text x="0" y="0" font-size="13.6" font-weight="normal" text-anchor="middle" transform="translate(445.30 966.50)" >H460+</text>
<text x="0" y="0" font-size="13.8" font-weight="normal" text-anchor="middle" transform="translate(436.80 984.70)" >CCR2<tspan font-size="9.5" dy="-5">+</tspan><tspan dy="5"> IM</tspan></text>
<text x="0" y="0" font-size="13.6" font-weight="normal" text-anchor="middle" transform="translate(515.50 966.50)" >H460+</text>
<text x="0" y="0" font-size="13.8" font-weight="normal" text-anchor="middle" transform="translate(516.20 984.70)" >CCR2<tspan font-size="9.5" dy="-5">-</tspan><tspan dy="5"> cells</tspan></text>
<text x="0" y="0" font-size="18.5" font-weight="bold" text-anchor="middle" transform="translate(288.10 802.70) rotate(-90)" >% CD133+CXCR4+ cells</text>
<text x="0" y="0" font-size="20" font-weight="bold" text-anchor="start" transform="translate(565.00 695.90)" >G</text>
<line x1="658.60" y1="843.60" x2="658.60" y2="835.00" stroke="#000" stroke-width="2"/>
<line x1="649.10" y1="835.00" x2="668.10" y2="835.00" stroke="#000" stroke-width="2"/>
<rect x="640.60" y="844.60" width="36.00" height="62.40" fill="#fff" stroke="#000" stroke-width="2"/>
<line x1="715.60" y1="794.60" x2="715.60" y2="775.60" stroke="#000" stroke-width="2"/>
<line x1="706.00" y1="775.60" x2="725.20" y2="775.60" stroke="#000" stroke-width="2"/>
<rect x="697.70" y="795.70" width="35.80" height="111.20" fill="url(#ck)" stroke="#000" stroke-width="2.2"/>
<line x1="630.00" y1="726.00" x2="630.00" y2="908.00" stroke="#000" stroke-width="2"/>
<line x1="629.00" y1="907.00" x2="744.00" y2="907.00" stroke="#000" stroke-width="2"/>
<line x1="626.00" y1="727.00" x2="630.00" y2="727.00" stroke="#000" stroke-width="2"/>
<text x="0" y="0" font-size="14.4" font-weight="bold" text-anchor="end" transform="translate(623.70 732.10) scale(0.83 1.0)" >2.0</text>
<line x1="626.00" y1="772.00" x2="630.00" y2="772.00" stroke="#000" stroke-width="2"/>
<text x="0" y="0" font-size="14.4" font-weight="bold" text-anchor="end" transform="translate(623.70 777.10) scale(0.83 1.0)" >1.5</text>
<line x1="626.00" y1="817.00" x2="630.00" y2="817.00" stroke="#000" stroke-width="2"/>
<text x="0" y="0" font-size="14.4" font-weight="bold" text-anchor="end" transform="translate(623.70 822.10) scale(0.83 1.0)" >1.0</text>
<line x1="626.00" y1="862.00" x2="630.00" y2="862.00" stroke="#000" stroke-width="2"/>
<text x="0" y="0" font-size="14.4" font-weight="bold" text-anchor="end" transform="translate(623.70 867.10) scale(0.83 1.0)" >0.5</text>
<line x1="626.00" y1="907.00" x2="630.00" y2="907.00" stroke="#000" stroke-width="2"/>
<text x="0" y="0" font-size="14.4" font-weight="bold" text-anchor="end" transform="translate(623.70 912.10) scale(0.83 1.0)" >0.0</text>
<line x1="658.60" y1="907.00" x2="658.60" y2="912.00" stroke="#000" stroke-width="2"/>
<line x1="715.60" y1="907.00" x2="715.60" y2="912.00" stroke="#000" stroke-width="2"/>
<text x="0" y="0" font-size="18" font-weight="bold" text-anchor="middle" transform="translate(713.00 774.50)" >*</text>
<text x="0" y="0" font-size="14.95" font-weight="bold" text-anchor="middle" transform="translate(594.40 816.40) rotate(-90) scale(1.0 0.83)" >Tumor cells in the lungs (%)</text>
<text x="0" y="0" font-size="14.6" font-weight="bold" text-anchor="end" transform="translate(661.00 926.00) scale(0.925 1) rotate(-45)" >H460</text>
<text x="0" y="0" font-size="14.6" font-weight="bold" text-anchor="end" transform="translate(718.00 926.00) scale(0.925 1) rotate(-45)" >SDF-1-H460</text>
</svg></body></html>
